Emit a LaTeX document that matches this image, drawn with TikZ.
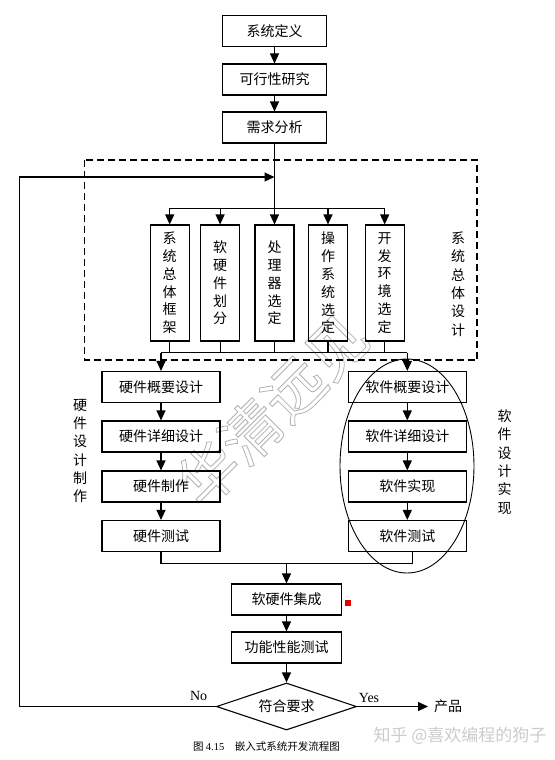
\documentclass[tikz,border=0pt]{standalone}
\usepackage{fontspec}
\setmainfont{Liberation Serif}
\newfontfamily\cjk{Noto Sans CJK SC}
\usetikzlibrary{arrows.meta,shapes.geometric}
\tikzset{
  lin/.style={line width=1.1pt},
  arr/.style={line width=1.1pt,-{Triangle[length=10pt,width=9pt]}},
  box/.style={draw,line width=1.1pt,minimum width=118pt,minimum height=31pt,inner sep=0pt,
    font=\cjk\fontsize{14}{16}\selectfont},
  vbox/.style={draw,line width=1.1pt,minimum width=39pt,minimum height=116pt,inner sep=0pt,
    align=center,font=\cjk\fontsize{14}{17.8}\selectfont},
  vlabel/.style={inner sep=0pt,align=center,font=\cjk\fontsize{14}{18.3}\selectfont},
  latin/.style={inner sep=0pt,font=\fontsize{14}{16}\selectfont},
}
\begin{document}
\begin{tikzpicture}[x=1pt,y=-1pt]
\useasboundingbox (0,0) rectangle (554,760);
\fill[white] (0,0) rectangle (554,760);
% watermarks
\node[font=\cjk\fontsize{60}{62}\selectfont,text=black!30,rotate=45] (wm) at (272,410)
  {\special{pdf:literal direct 1 Tr 0.8 w}华清远见\special{pdf:literal direct 0 Tr}};
\node[font=\cjk\fontsize{17}{20}\selectfont,text=black!20,inner sep=0pt] (zh) at (460,736) {知乎 @喜欢编程的狗子};

% top chain
\node[box,minimum width=104pt] (def) at (274.5,31) {系统定义};
\node[box,minimum width=104pt] (feas) at (274.5,79.5) {可行性研究};
\node[box,minimum width=104pt] (req) at (274.5,127.5) {需求分析};
\draw[arr] (def) -- (feas);
\draw[arr] (feas) -- (req);

% dashed group
\draw[dashed,line width=1.8pt,dash pattern=on 7pt off 4pt] (84.5,160) rectangle (477,360);
\node[vlabel] (lab1) at (458,284) {系\\统\\总\\体\\设\\计};

\coordinate (fb) at (274.5,177);
\coordinate (split) at (274.5,208.3);
\coordinate (join) at (274.5,352.5);

\node[vbox] (v1) at (169.7,283) {系\\统\\总\\体\\框\\架};
\node[vbox] (v2) at (220.1,283) {软\\硬\\件\\划\\分};
\node[vbox] (v3) at (274.5,283) {处\\理\\器\\选\\定};
\node[vbox] (v4) at (328,283) {操\\作\\系\\统\\选\\定};
\node[vbox] (v5) at (384.7,283) {开\\发\\环\\境\\选\\定};

\draw[lin] (req.south) -- (split);
\draw[lin] (v1.north |- split) -- (v5.north |- split);
\foreach \v in {v1,v2,v3,v4,v5}{
  \draw[arr] (\v.north |- split) -- (\v.north);
  \draw[lin] (\v.south) -- (\v.south |- join);
}

% columns
\node[box] (hw1) at (161,387) {硬件概要设计};
\node[box] (hw2) at (161,436.5) {硬件详细设计};
\node[box] (hw3) at (161,486.5) {硬件制作};
\node[box] (hw4) at (161,536) {硬件测试};
\node[box] (sw1) at (407.3,387) {软件概要设计};
\node[box] (sw2) at (407.3,436.5) {软件详细设计};
\node[box] (sw3) at (407.3,486.5) {软件实现};
\node[box] (sw4) at (407.3,536) {软件测试};
\node[vlabel] (lab2) at (80,451) {硬\\件\\设\\计\\制\\作};
\node[vlabel] (lab3) at (504.5,462) {软\\件\\设\\计\\实\\现};
\draw[line width=0.9pt] (407,466) ellipse [x radius=67pt, y radius=107pt];

\draw[lin] (hw1.north |- join) -- (sw1.north |- join);
\draw[arr] (hw1.north |- join) -- (hw1.north);
\draw[arr] (sw1.north |- join) -- (sw1.north);
\draw[arr] (hw1) -- (hw2);
\draw[arr] (hw2) -- (hw3);
\draw[arr] (hw3) -- (hw4);
\draw[arr] (sw1) -- (sw2);
\draw[arr] (sw2) -- (sw3);
\draw[arr] (sw3) -- (sw4);

% integration
\node[box,minimum width=110pt] (int) at (286.5,599.5) {软硬件集成};
\node[box,minimum width=110pt] (func) at (286.5,647.5) {功能性能测试};
\node[draw,diamond,aspect=3,minimum width=140pt,minimum height=47pt,inner sep=0pt,line width=1.1pt,
  font=\cjk\fontsize{14}{16}\selectfont] (dia) at (286.5,706.5) {符合要求};
\coordinate (m) at (286.5,563.5);
\draw[lin] (hw4.south) -- (hw4.south |- m) -- ([xshift=5pt]sw4.south |- m) -- ([xshift=5pt]sw4.south);
\draw[arr] (m) -- (int.north);
\draw[arr] (int) -- (func);
\draw[arr] (func) -- (dia);
\fill[red!90!black] (345,600) rectangle (350.5,605.5);

% decision
\coordinate (lc) at (19.6,706.5);
\draw[arr] (dia.west) -- (lc) |- (fb);
\node[inner sep=0pt,anchor=west,font=\cjk\fontsize{14}{16}\selectfont] (prod) at (434,706.5) {产品};
\draw[arr] (dia.east) -- ([xshift=-6pt]prod.west);
\node[latin] (no) at (198.6,696) {No};
\node[latin] (yes) at (369,697.5) {Yes};

% caption
\node[inner sep=0pt,font=\cjk\fontsize{10.5}{12}\selectfont] (cap) at (266.4,746.7) {图 {\rmfamily 4.15}\quad 嵌入式系统开发流程图};
\end{tikzpicture}
\end{document}
